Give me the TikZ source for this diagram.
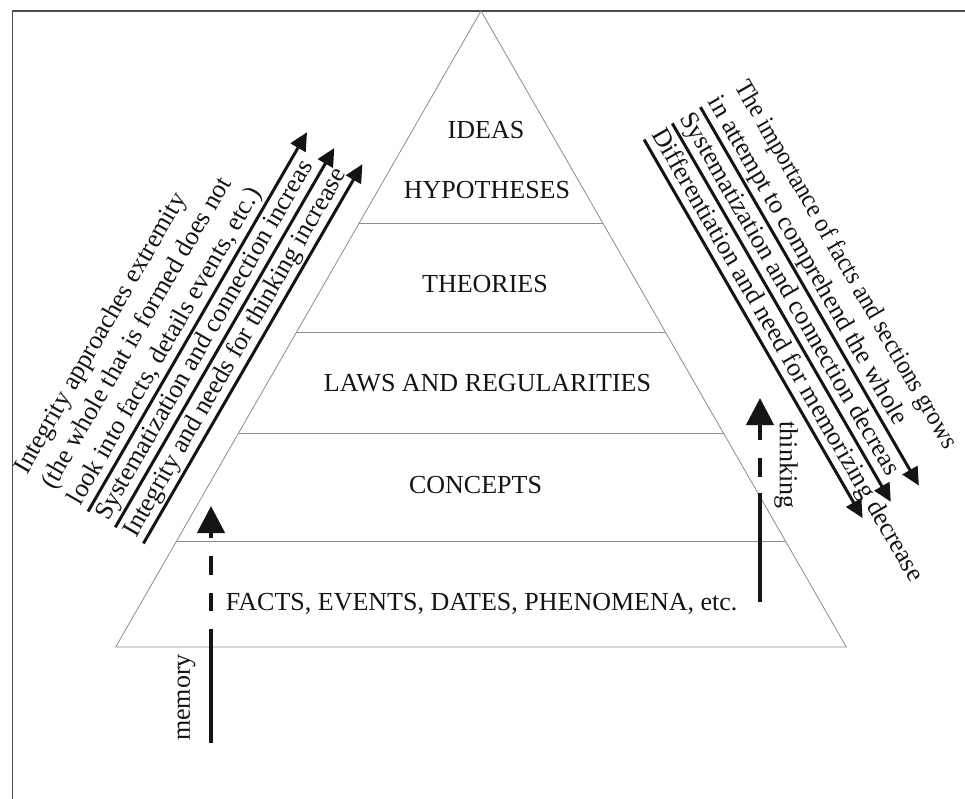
\documentclass[tikz,border=0pt]{standalone}
\usepackage{fontspec}
\setmainfont{Liberation Serif}
\usetikzlibrary{arrows.meta}
\begin{document}
\begin{tikzpicture}[x=1pt,y=-1pt,
  lbl/.style={inner sep=0pt, font=\fontsize{26}{30}\selectfont, text=black!92},
  level/.style={lbl, anchor=base},
  diag/.style={lbl, anchor=base west},
  pyr/.style={draw=black!45, line width=0.8pt},
  frameline/.style={draw=black!70, line width=1.4pt},
  darr/.style={draw=black!92, line width=3pt, -{Triangle[length=18pt,width=17pt]}},
  varr/.style={draw=black!92, line width=4.5pt, -{Triangle[length=27pt,width=27pt]}},
]
\useasboundingbox (0,0) rectangle (965,799);

% frame
\coordinate (fTL) at (12.7,11);
\coordinate (fTR) at (965,11);
\coordinate (fBL) at (12.7,799);
\draw[frameline] (fTR) -- (fTL) -- (fBL);

% pyramid
\coordinate (apex) at (481,11);
\coordinate (bL) at (115.7,647);
\coordinate (bR) at (846.3,647);
\draw[pyr] (bL) -- (apex) -- (bR) -- cycle;
\coordinate (l1L) at (359.3,223.3); \coordinate (l1R) at (602.7,223.3);
\coordinate (l2L) at (296.7,332.3); \coordinate (l2R) at (665.3,332.3);
\coordinate (l3L) at (238.6,433.3); \coordinate (l3R) at (723.4,433.3);
\coordinate (l4L) at (176.2,541.7); \coordinate (l4R) at (785.8,541.7);
\draw[pyr] (l1L) -- (l1R);
\draw[pyr] (l2L) -- (l2R);
\draw[pyr] (l3L) -- (l3R);
\draw[pyr] (l4L) -- (l4R);

% level labels
\node[level] (ideas) at (486,138.3) {IDEAS};
\node[level] (hyp) at (487,198.3) {HYPOTHESES};
\node[level] (theo) at (485,292) {THEORIES};
\node[level] (laws) at (487.5,391.7) {LAWS AND REGULARITIES};
\node[level] (conc) at (475.5,493.3) {CONCEPTS};
\node[level] (facts) at (481.7,610) {FACTS, EVENTS, DATES, PHENOMENA, etc.};

% left diagonal texts
\node[diag, rotate=60] (L1) at (27.0,475.2) {Integrity approaches extremity};
\node[diag, rotate=60] (L2) at (53.9,490.7) {(the whole that is formed does not};
\node[diag, rotate=60] (L3) at (80.7,506.2) {look into facts, details events, etc.)};
\node[diag, rotate=60] (L4) at (108,521.9) {Systematization and connection increas};
\node[diag, rotate=60] (L5) at (136.1,538.2) {Integrity and needs for thinking increase};

% left arrows
\coordinate (a1s) at (88,511.5);    \coordinate (a1e) at (307,132.2);
\coordinate (a2s) at (115.3,527.3); \coordinate (a2e) at (334.3,148);
\coordinate (a3s) at (143.4,543.5); \coordinate (a3e) at (362.4,164.2);
\draw[darr] (a1s) -- (a1e);
\draw[darr] (a2s) -- (a2e);
\draw[darr] (a3s) -- (a3e);

% right diagonal texts
\node[diag, rotate=-60, xscale=0.93] (R1t) at (734.5,86.3) {The importance of facts and sections grows};
\node[diag, rotate=-60] (R2t) at (707.7,101.8) {in attempt to comprehend the whole};
\node[diag, rotate=-60] (R3t) at (679.5,118) {Systematization and connection decreas};
\node[diag, rotate=-60] (R4t) at (651.4,134.3) {Differentiation and need for memorizing decrease};

% right arrows
\coordinate (r1s) at (700.4,107.1); \coordinate (r1e) at (918.9,485.6);
\coordinate (r2s) at (672.3,123.4); \coordinate (r2e) at (890.8,501.8);
\coordinate (r3s) at (644.1,139.6); \coordinate (r3e) at (862.6,518.1);
\draw[darr] (r1s) -- (r1e);
\draw[darr] (r2s) -- (r2e);
\draw[darr] (r3s) -- (r3e);

% memory arrow
\coordinate (mb) at (211,743);
\coordinate (mt) at (211,506);
\draw[varr, dash pattern=on 114pt off 18pt on 18pt off 18pt on 19pt off 18pt on 80pt] (mb) -- (mt);
\node[lbl, rotate=90] (mem) at (186.5,697.5) {memory};

% thinking arrow
\coordinate (tb) at (760,602);
\coordinate (tt) at (760,398);
\draw[varr, dash pattern=on 109pt off 16pt on 19pt off 18pt on 80pt] (tb) -- (tt);
\node[lbl, rotate=-90] (thk) at (786,465) {thinking};
\end{tikzpicture}
\end{document}
